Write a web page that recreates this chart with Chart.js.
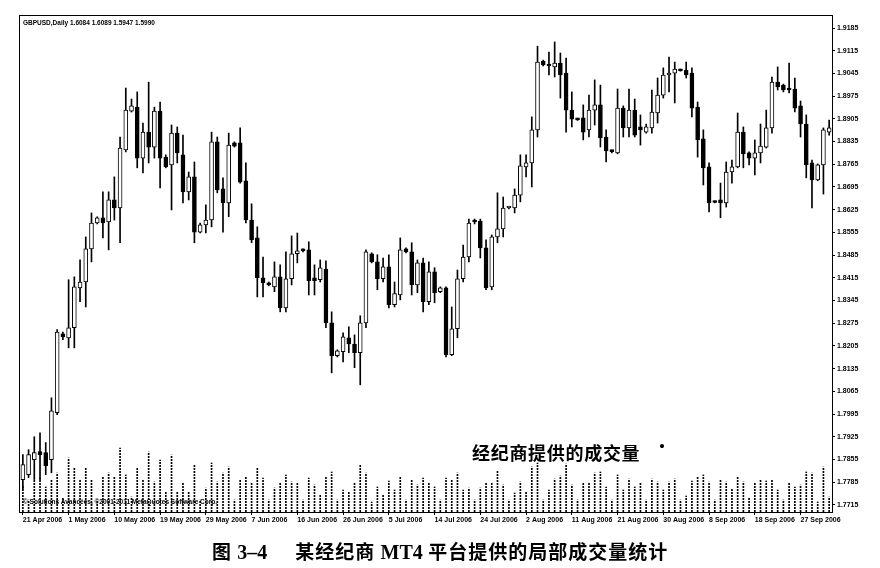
<!DOCTYPE html>
<html>
<head>
<meta charset="utf-8">
<script src="https://cdn.jsdelivr.net/npm/chart.js@4.4.1/dist/chart.umd.min.js"></script>
<style>
  html, body { margin: 0; padding: 0; background: #fff; }
  #wrap { position: relative; width: 880px; height: 568px; overflow: hidden; }
  #c { position: absolute; left: 0; top: 0; }
  .txt { position: absolute; white-space: nowrap; color: #000; line-height: 1; }
  #title { left: 23px; top: 19px; font: bold 6.5px "Liberation Sans", Arial, sans-serif; }
  #copy  { left: 23px; top: 498px; font: bold 6.5px "Liberation Sans", Arial, sans-serif; }
  #note  { left: 472px; top: 439px; font: bold 18px "Noto Sans CJK SC", sans-serif; letter-spacing: 0.7px; }
  #dot   { left: 654px; top: 433px; font: bold 16px "Noto Sans CJK SC", sans-serif; }
  #caption { left: 212px; top: 537px; font: bold 19px "Noto Sans CJK SC", sans-serif; letter-spacing: 1px; }
  #caption .lat { font-family: "Liberation Serif", serif; font-size: 20px; letter-spacing: 0; }
  #caption .fig { margin-right: 12px; }
</style>
</head>
<body>
<div id="wrap">
  <canvas id="c" width="880" height="568"></canvas>
  <div class="txt" id="title">GBPUSD,Daily 1.6084 1.6089 1.5947 1.5990</div>
  <div class="txt" id="copy">© Solutions Avancées, ©2001-2011 MetaQuotes Software Corp.</div>
  <div class="txt" id="note">经纪商提供的成交量</div>
  <div class="txt" id="dot">·</div>
  <div class="txt" id="caption">图 <span class="lat fig">3–4</span>&nbsp;&nbsp; 某经纪商 <span class="lat">MT4</span> 平台提供的局部成交量统计</div>
</div>
<script>
// ── Data (GBPUSD daily, 21 Apr – early Oct 2006, incl. Sunday bars) ──
const dateTicks = ['21 Apr 2006', '1 May 2006', '10 May 2006', '19 May 2006', '29 May 2006',
  '7 Jun 2006', '16 Jun 2006', '26 Jun 2006', '5 Jul 2006', '14 Jul 2006', '24 Jul 2006',
  '2 Aug 2006', '11 Aug 2006', '21 Aug 2006', '30 Aug 2006', '8 Sep 2006', '18 Sep 2006',
  '27 Sep 2006'];

const priceTicks = [1.7715, 1.7785, 1.7855, 1.7925, 1.7995, 1.8065, 1.8135, 1.8205, 1.8275,
  1.8345, 1.8415, 1.8485, 1.8555, 1.8625, 1.8695, 1.8765, 1.8835, 1.8905, 1.8975, 1.9045,
  1.9115, 1.9185];

const opens = [
  1.7793, 1.7808, 1.7854, 1.7879, 1.7876, 1.7854, 1.7999, 1.8242, 1.8230, 1.8261,
  1.8384, 1.8402, 1.8504, 1.8584, 1.8600, 1.8587, 1.8655, 1.8630, 1.8809, 1.8929,
  1.8941, 1.8784, 1.8864, 1.8818, 1.8929, 1.8787, 1.8763, 1.8861, 1.8794, 1.8680,
  1.8726, 1.8556, 1.8578, 1.8593, 1.8834, 1.8689, 1.8646, 1.8831, 1.8831, 1.8714,
  1.8593, 1.8538, 1.8415, 1.8399, 1.8387, 1.8418, 1.8322, 1.8412, 1.8489, 1.8501,
  1.8501, 1.8415, 1.8409, 1.8442, 1.8276, 1.8175, 1.8187, 1.8230, 1.8211, 1.8184,
  1.8276, 1.8489, 1.8464, 1.8412, 1.8449, 1.8332, 1.8362, 1.8504, 1.8495, 1.8393,
  1.8461, 1.8341, 1.8433, 1.8372, 1.8384, 1.8178, 1.8258, 1.8412, 1.8479, 1.8590,
  1.8590, 1.8507, 1.8387, 1.8541, 1.8566, 1.8630, 1.8630, 1.8670, 1.8757, 1.8769,
  1.8871, 1.9083, 1.9074, 1.9065, 1.9077, 1.9046, 1.8932, 1.8904, 1.8908, 1.8871,
  1.8932, 1.8948, 1.8849, 1.8806, 1.8800, 1.8938, 1.8877, 1.8932, 1.8880, 1.8864,
  1.8877, 1.8923, 1.8978, 1.9040, 1.9046, 1.9055, 1.9055, 1.9046, 1.8941, 1.8843,
  1.8757, 1.8649, 1.8655, 1.8646, 1.8741, 1.8757, 1.8864, 1.8800, 1.8784, 1.8800,
  1.8818, 1.8877, 1.9018, 1.9009, 1.8997, 1.8997, 1.8945, 1.8889, 1.8769, 1.8717,
  1.8763, 1.8864
];
const highs = [
  1.7870, 1.7885, 1.7925, 1.7937, 1.7907, 1.8045, 1.8255, 1.8248, 1.8409, 1.8418,
  1.8470, 1.8541, 1.8615, 1.8603, 1.8680, 1.8680, 1.8726, 1.8849, 1.9000, 1.8966,
  1.8988, 1.8892, 1.9018, 1.8941, 1.8957, 1.8794, 1.8886, 1.8880, 1.8855, 1.8741,
  1.8772, 1.8584, 1.8640, 1.8864, 1.8849, 1.8723, 1.8861, 1.8834, 1.8877, 1.8769,
  1.8643, 1.8572, 1.8479, 1.8402, 1.8464, 1.8455, 1.8495, 1.8544, 1.8553, 1.8504,
  1.8526, 1.8455, 1.8470, 1.8467, 1.8310, 1.8193, 1.8245, 1.8264, 1.8239, 1.8298,
  1.8501, 1.8492, 1.8486, 1.8476, 1.8486, 1.8402, 1.8538, 1.8507, 1.8523, 1.8470,
  1.8476, 1.8464, 1.8446, 1.8387, 1.8387, 1.8325, 1.8439, 1.8516, 1.8596, 1.8596,
  1.8596, 1.8532, 1.8547, 1.8677, 1.8664, 1.8634, 1.8689, 1.8794, 1.8794, 1.8911,
  1.9129, 1.9086, 1.9111, 1.9142, 1.9108, 1.9092, 1.8988, 1.8907, 1.8948, 1.8978,
  1.9025, 1.9009, 1.8871, 1.8809, 1.8997, 1.8945, 1.8997, 1.8966, 1.8917, 1.8889,
  1.8994, 1.9031, 1.9062, 1.9095, 1.9080, 1.9058, 1.9080, 1.9062, 1.8957, 1.8871,
  1.8769, 1.8652, 1.8707, 1.8772, 1.8778, 1.8923, 1.8880, 1.8803, 1.8840, 1.8889,
  1.8932, 1.9034, 1.9065, 1.9012, 1.9077, 1.9031, 1.8960, 1.8917, 1.8778, 1.8766,
  1.8877, 1.8901
];
const lows = [
  1.7762, 1.7799, 1.7793, 1.7793, 1.7808, 1.7814, 1.7993, 1.8224, 1.8199, 1.8199,
  1.8341, 1.8325, 1.8464, 1.8581, 1.8538, 1.8501, 1.8593, 1.8523, 1.8803, 1.8926,
  1.8754, 1.8738, 1.8769, 1.8784, 1.8692, 1.8754, 1.8624, 1.8769, 1.8646, 1.8655,
  1.8523, 1.8553, 1.8553, 1.8572, 1.8677, 1.8556, 1.8603, 1.8818, 1.8707, 1.8584,
  1.8523, 1.8356, 1.8356, 1.8390, 1.8372, 1.8310, 1.8310, 1.8393, 1.8461, 1.8495,
  1.8362, 1.8362, 1.8402, 1.8261, 1.8122, 1.8171, 1.8156, 1.8184, 1.8138, 1.8085,
  1.8261, 1.8461, 1.8378, 1.8402, 1.8322, 1.8325, 1.8347, 1.8492, 1.8362, 1.8369,
  1.8310, 1.8332, 1.8338, 1.8369, 1.8171, 1.8175, 1.8230, 1.8402, 1.8464, 1.8581,
  1.8476, 1.8378, 1.8378, 1.8523, 1.8541, 1.8627, 1.8615, 1.8649, 1.8726, 1.8695,
  1.8849, 1.9068, 1.9040, 1.9034, 1.8969, 1.8864, 1.8880, 1.8900, 1.8840, 1.8849,
  1.8886, 1.8818, 1.8772, 1.8800, 1.8797, 1.8849, 1.8849, 1.8849, 1.8824, 1.8861,
  1.8861, 1.8892, 1.8969, 1.8988, 1.8954, 1.9052, 1.9031, 1.8911, 1.8787, 1.8701,
  1.8618, 1.8646, 1.8600, 1.8633, 1.8707, 1.8754, 1.8754, 1.8763, 1.8732, 1.8769,
  1.8815, 1.8861, 1.8994, 1.8988, 1.8985, 1.8926, 1.8849, 1.8723, 1.8630, 1.8714,
  1.8673, 1.8855
];
const closes = [
  1.7839, 1.7870, 1.7876, 1.7870, 1.7836, 1.8005, 1.8248, 1.8233, 1.8261, 1.8387,
  1.8402, 1.8504, 1.8584, 1.8600, 1.8584, 1.8655, 1.8630, 1.8815, 1.8932, 1.8945,
  1.8784, 1.8864, 1.8818, 1.8929, 1.8784, 1.8757, 1.8861, 1.8800, 1.8680, 1.8726,
  1.8556, 1.8578, 1.8593, 1.8834, 1.8686, 1.8646, 1.8824, 1.8821, 1.8710, 1.8593,
  1.8532, 1.8415, 1.8399, 1.8393, 1.8418, 1.8322, 1.8412, 1.8489, 1.8498, 1.8498,
  1.8406, 1.8406, 1.8446, 1.8276, 1.8175, 1.8190, 1.8233, 1.8211, 1.8184, 1.8276,
  1.8495, 1.8464, 1.8412, 1.8449, 1.8332, 1.8366, 1.8501, 1.8495, 1.8393, 1.8461,
  1.8341, 1.8433, 1.8369, 1.8384, 1.8178, 1.8258, 1.8412, 1.8479, 1.8584, 1.8587,
  1.8507, 1.8384, 1.8541, 1.8566, 1.8630, 1.8632, 1.8670, 1.8760, 1.8769, 1.8871,
  1.9080, 1.9071, 1.9068, 1.9077, 1.9040, 1.8932, 1.8904, 1.8902, 1.8864, 1.8932,
  1.8948, 1.8846, 1.8806, 1.8804, 1.8938, 1.8877, 1.8932, 1.8855, 1.8871, 1.8880,
  1.8926, 1.8978, 1.9040, 1.9046, 1.9058, 1.9053, 1.9040, 1.8938, 1.8840, 1.8754,
  1.8646, 1.8647, 1.8646, 1.8741, 1.8757, 1.8864, 1.8797, 1.8784, 1.8800, 1.8821,
  1.8877, 1.9018, 1.9003, 1.8994, 1.8994, 1.8938, 1.8889, 1.8763, 1.8717, 1.8763,
  1.8871, 1.8877
];
// tick volume (broker-supplied)
const volumes = [
  540, 240, 640, 680, 500, 640, 780, 280, 1080, 880,
  640, 880, 640, 240, 700, 780, 700, 1280, 740, 300,
  880, 640, 1200, 600, 1040, 400, 1140, 400, 580, 400,
  940, 240, 480, 980, 600, 780, 900, 240, 640, 700,
  580, 880, 680, 240, 480, 580, 740, 600, 580, 240,
  680, 540, 340, 700, 800, 240, 440, 400, 580, 940,
  780, 200, 500, 340, 620, 440, 700, 240, 640, 540,
  680, 580, 500, 240, 680, 640, 780, 440, 480, 240,
  480, 580, 580, 820, 540, 240, 380, 600, 400, 900,
  980, 240, 440, 660, 720, 960, 540, 240, 580, 580,
  780, 800, 500, 240, 740, 440, 660, 500, 580, 240,
  660, 600, 440, 600, 660, 240, 320, 620, 700, 740,
  600, 240, 640, 600, 460, 700, 600, 280, 580, 640,
  620, 640, 440, 240, 580, 500, 540, 800, 780, 200,
  900, 300
];

// ── Helpers ───────────────────────────────────────────────
const canvas = document.getElementById('c');

// dotted fill for the volume histogram
const pc = document.createElement('canvas');
pc.width = 1; pc.height = 3;
const pctx = pc.getContext('2d');
pctx.fillStyle = '#000';
pctx.fillRect(0, 0, 1, 2);
const dotted = canvas.getContext('2d').createPattern(pc, 'repeat');

const framePlugin = {
  id: 'frame',
  afterDatasetsDraw(chart) {
    const { ctx, chartArea: a } = chart;
    ctx.save();
    ctx.strokeStyle = '#000';
    ctx.lineWidth = 1;
    ctx.strokeRect(Math.round(a.left) - 0.5, Math.round(a.top) - 0.5,
      Math.round(a.right - a.left) + 1, Math.round(a.bottom - a.top) + 1);
    ctx.restore();
  }
};

const axisFont = { family: 'Liberation Sans', size: 7, weight: 'bold' };

// ── Chart ─────────────────────────────────────────────────
new Chart(canvas, {
  type: 'bar',
  data: {
    labels: opens.map((_, i) => i),
    datasets: [
      {
        label: 'body',
        data: opens.map((o, i) => [o, closes[i]]),
        backgroundColor: opens.map((o, i) => closes[i] >= o ? '#fff' : '#000'),
        borderColor: '#000',
        borderWidth: 1,
        borderSkipped: false,
        barThickness: 4,
        minBarLength: 2,
        grouped: false,
        order: 0,
        yAxisID: 'y'
      },
      {
        label: 'wick',
        data: lows.map((l, i) => [l, highs[i]]),
        backgroundColor: '#000',
        borderWidth: 0,
        barThickness: 1,
        minBarLength: 1,
        grouped: false,
        order: 1,
        yAxisID: 'y'
      },
      {
        label: 'volume',
        data: volumes,
        backgroundColor: dotted,
        borderWidth: 0,
        barThickness: 1,
        grouped: false,
        order: 2,
        yAxisID: 'yv'
      }
    ]
  },
  options: {
    responsive: false,
    animation: false,
    layout: { padding: { left: 20, top: 16, right: 0, bottom: 36 } },
    plugins: { legend: { display: false }, tooltip: { enabled: false } },
    scales: {
      x: {
        type: 'category',
        offset: true,
        grid: { display: true, offset: false, drawOnChartArea: false, tickLength: 3, color: '#000' },
        border: { color: '#000', width: 1 },
        ticks: {
          autoSkip: false, maxRotation: 0, align: 'start', padding: 1,
          color: '#000', font: axisFont,
          callback: v => dateTicks[v / 8]
        },
        afterBuildTicks: s => { s.ticks = s.ticks.filter(t => t.value % 8 === 0); },
        afterFit: s => { s.height = 20; }
      },
      y: {
        position: 'right',
        min: 1.7693,
        max: 1.9222,
        grid: { drawOnChartArea: false, tickLength: 3, color: '#000' },
        border: { color: '#000', width: 1 },
        ticks: { color: '#000', font: axisFont, padding: 2, callback: v => v.toFixed(4) },
        afterBuildTicks: s => { s.ticks = priceTicks.map(v => ({ value: v })); },
        afterFit: s => { s.width = 48; }
      },
      yv: { display: false, min: 0, max: 9920 }
    }
  },
  plugins: [framePlugin]
});
</script>
</body>
</html>
